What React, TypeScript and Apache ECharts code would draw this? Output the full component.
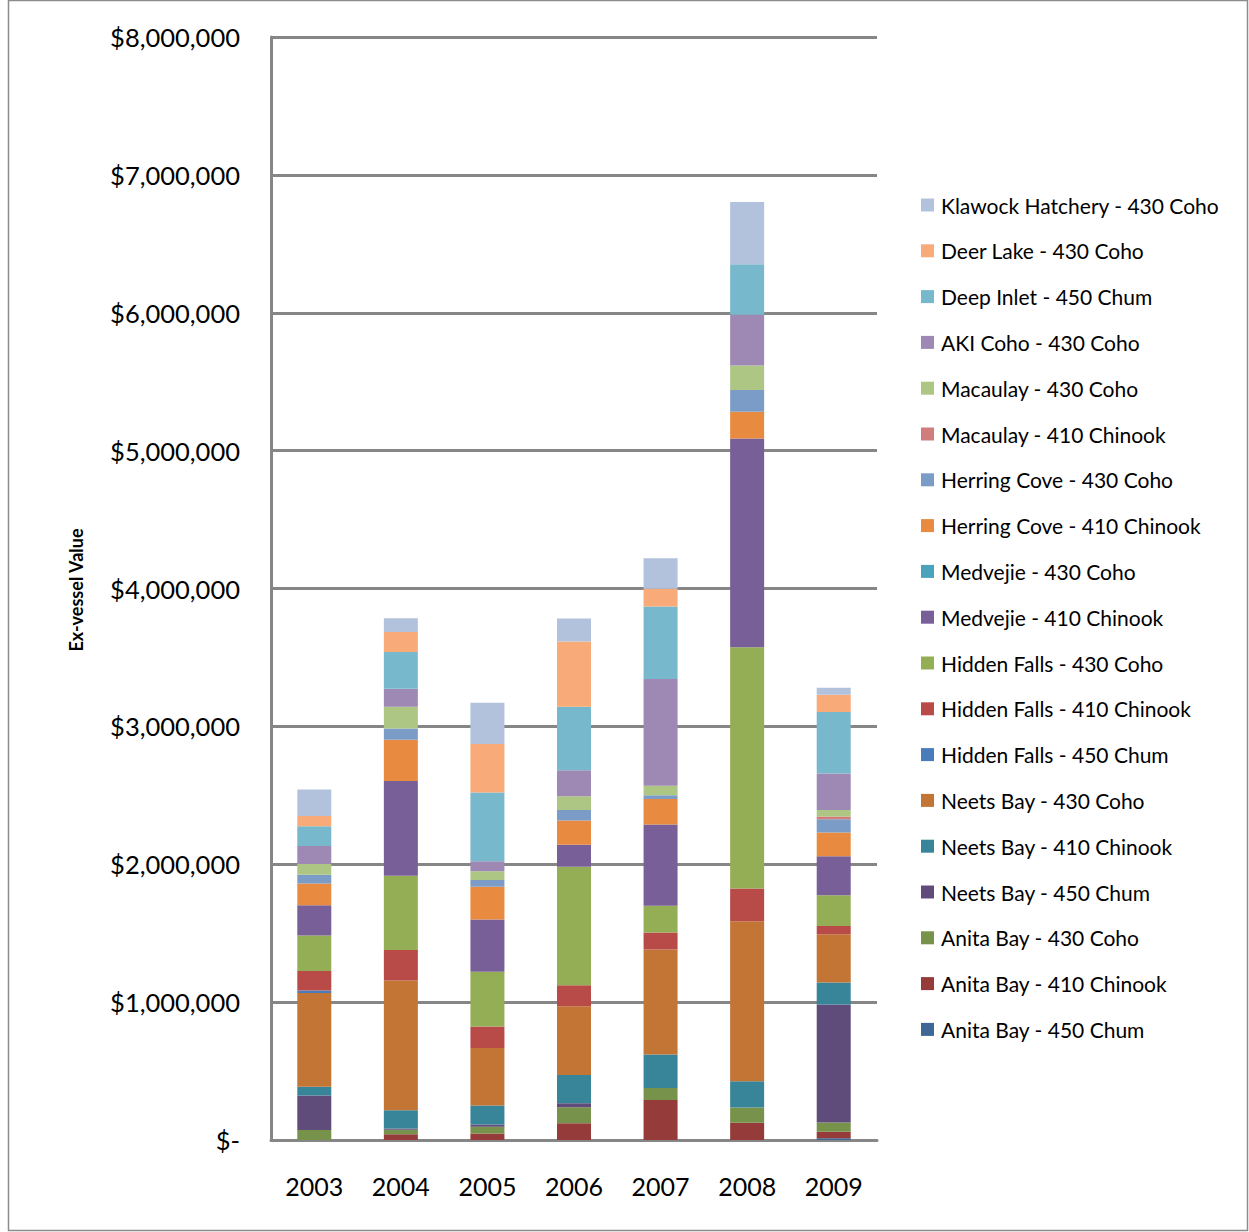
import React, { useEffect, useRef } from "react";
import * as echarts from "echarts";

const years = ["2003", "2004", "2005", "2006", "2007", "2008", "2009"];

// Values in dollars, per series (stack order bottom -> top)
const anitaChum = [0, 0, 0, 0, 0, 0, 12000];
const anitaChinook = [0, 42000, 48000, 122000, 290000, 125000, 48000];
const anitaCoho = [72000, 32000, 48000, 115000, 88000, 111000, 67000];
const neetsChum = [250000, 10000, 17000, 30000, 0, 0, 855000];
const neetsChinook = [65000, 132000, 137000, 204000, 243000, 190000, 161000];
const neetsCoho = [679000, 940000, 417000, 499000, 760000, 1160000, 349000];
const hfChum = [19000, 0, 0, 0, 0, 0, 0];
const hfChinook = [140000, 222000, 157000, 152000, 124000, 239000, 60000];
const hfCoho = [258000, 539000, 397000, 860000, 194000, 1748000, 224000];
const medChinook = [219000, 686000, 378000, 160000, 589000, 1515000, 282000];
const medCoho = [0, 0, 0, 0, 0, 0, 0];
const hcChinook = [159000, 300000, 238000, 175000, 185000, 194000, 173000];
const hcCoho = [63000, 82000, 48000, 77000, 28000, 158000, 96000];
const macChinook = [0, 0, 0, 0, 0, 0, 19000];
const macCoho = [77000, 157000, 65000, 100000, 69000, 177000, 48000];
const akiCoho = [132000, 130000, 72000, 187000, 774000, 369000, 265000];
const deepInlet = [142000, 267000, 498000, 461000, 525000, 365000, 445000];
const deerLake = [75000, 145000, 352000, 474000, 130000, 0, 125000];
const klawock = [193000, 100000, 299000, 167000, 221000, 452000, 51000];

const seriesNames = [
  "Anita Bay - 450 Chum",
  "Anita Bay - 410 Chinook",
  "Anita Bay - 430 Coho",
  "Neets Bay - 450 Chum",
  "Neets Bay - 410 Chinook",
  "Neets Bay - 430 Coho",
  "Hidden Falls - 450 Chum",
  "Hidden Falls - 410 Chinook",
  "Hidden Falls - 430 Coho",
  "Medvejie - 410 Chinook",
  "Medvejie - 430 Coho",
  "Herring Cove - 410 Chinook",
  "Herring Cove - 430 Coho",
  "Macaulay - 410 Chinook",
  "Macaulay - 430 Coho",
  "AKI Coho - 430 Coho",
  "Deep Inlet - 450 Chum",
  "Deer Lake - 430 Coho",
  "Klawock Hatchery - 430 Coho",
];

const seriesData = [
  anitaChum, anitaChinook, anitaCoho, neetsChum, neetsChinook, neetsCoho,
  hfChum, hfChinook, hfCoho, medChinook, medCoho, hcChinook, hcCoho,
  macChinook, macCoho, akiCoho, deepInlet, deerLake, klawock,
];

const seriesColors = [
  "#3E6697", "#953B3A", "#77924A", "#604C7A", "#388499", "#C27535",
  "#4A7BBA", "#B84B48", "#94AE55", "#795F98", "#4AA2BB", "#E88B40",
  "#7C9CC8", "#CF7E7C", "#AEC683", "#9D89B3", "#78B8CD", "#F8AA79",
  "#B3C2DC",
];

const FONT = "Lato, 'Open Sans', sans-serif";

export default function App() {
  const ref = useRef<HTMLDivElement>(null);

  useEffect(() => {
    if (!ref.current) return;
    const chart = echarts.init(ref.current, null, { renderer: "svg" });
    const option = {
      animation: false,
      backgroundColor: "#ffffff",
      grid: { left: 271, right: 372, top: 37, bottom: 92, containLabel: false },
      legend: {
        orient: "vertical",
        left: 916,
        top: 189,
        icon: "rect",
        itemWidth: 13,
        itemHeight: 13,
        itemGap: 23.8,
        selectedMode: false,
        data: [...seriesNames].reverse(),
        textStyle: {
          fontFamily: FONT,
          fontSize: 21,
          color: "#000",
          lineHeight: 22,
          padding: [0, 0, 0, 2],
        },
      },
      xAxis: {
        type: "category",
        data: years,
        axisLine: { show: true, lineStyle: { color: "#868686", width: 3 } },
        axisTick: { show: false },
        axisLabel: { color: "#000", fontSize: 25, fontFamily: FONT, margin: 33 },
      },
      yAxis: {
        type: "value",
        min: 0,
        max: 8000000,
        interval: 1000000,
        axisLine: { show: true, lineStyle: { color: "#868686", width: 3 } },
        axisTick: { show: false },
        splitLine: { show: true, lineStyle: { color: "#868686", width: 3 } },
        axisLabel: {
          color: "#000",
          fontSize: 25.5,
          fontFamily: FONT,
          margin: 31,
          formatter: (v: number) => (v === 0 ? "$-" : "$" + v.toLocaleString("en-US")),
        },
      },
      graphic: [
        {
          type: "rect",
          shape: { x: 8.5, y: 0.5, width: 1239, height: 1230 },
          style: { fill: "none", stroke: "#8c8c8c", lineWidth: 1.5 },
          silent: true,
        },
        {
          type: "text",
          x: 76,
          y: 590,
          rotation: Math.PI / 2,
          style: {
            text: "Ex-vessel Value",
            fontFamily: FONT,
            fontWeight: "bold",
            fontSize: 18,
            fill: "#000",
            align: "center",
            verticalAlign: "middle",
          },
        },
      ],
      series: seriesNames.map((name, i) => ({
        name,
        type: "bar",
        stack: "total",
        barWidth: 34,
        data: seriesData[i],
        itemStyle: { color: seriesColors[i] },
      })),
    };
    chart.setOption(option);
    return () => chart.dispose();
  }, []);

  return (
    <div
      ref={ref}
      style={{ position: "absolute", left: 0, top: 0, width: 1249, height: 1232 }}
    />
  );
}
